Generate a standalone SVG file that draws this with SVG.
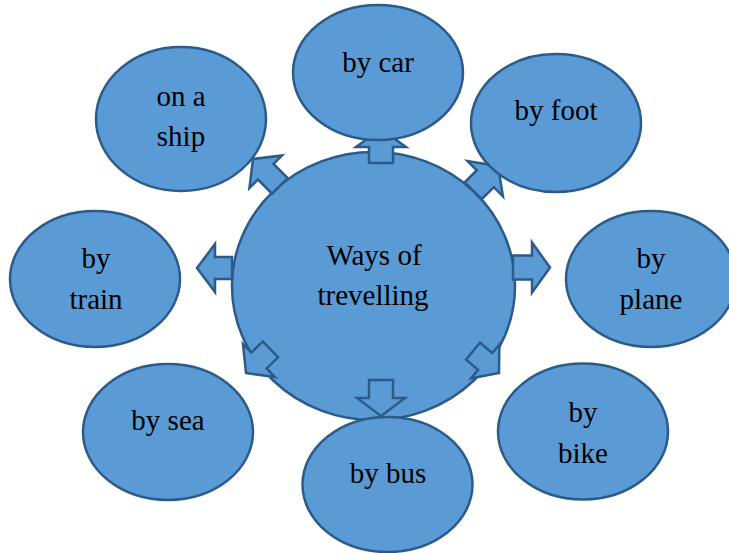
<svg xmlns="http://www.w3.org/2000/svg" width="729" height="553" viewBox="0 0 729 553">
<style>
.n{fill:#5B9BD5;stroke:#2B5B8A;stroke-width:2.5}
.a{fill:#5B9BD5;stroke:#2B5B8A;stroke-width:2.5;stroke-linejoin:miter}
text{font-family:"Liberation Serif","Times New Roman",serif;font-size:29px;fill:#000;text-anchor:middle}
</style>
<rect width="729" height="553" fill="#fff"/>
<g id="center">
<ellipse class="n" cx="373.5" cy="286" rx="141.5" ry="134"/>
<text x="374" y="265">Ways of</text>
<text x="373" y="305">trevelling</text>
</g>
<g id="connectors">
<polygon class="a" transform="translate(381,129) rotate(-90)" points="0,0 -18,-25 -18,-12 -34,-12 -34,12 -18,12 -18,25"/>
<polygon class="a" transform="translate(381,416) rotate(90)" points="0,0 -18,-24 -18,-12 -36,-12 -36,12 -18,12 -18,24"/>
<polygon class="a" transform="translate(550,267.5)" points="0,0 -18,-25 -18,-12 -37,-12 -37,12 -18,12 -18,25"/>
<polygon class="a" transform="translate(197,268) rotate(180)" points="0,0 -18,-24 -18,-11 -35,-11 -35,11 -18,11 -18,24"/>
<polygon class="a" transform="translate(253,159) rotate(225)" points="0,0 -18,-23 -18,-11 -38,-11 -38,11 -18,11 -18,23"/>
<polygon class="a" transform="translate(498,166) rotate(-45)" points="0,0 -18,-25 -18,-12 -35,-12 -35,12 -18,12 -18,25"/>
<polygon class="a" transform="translate(246,373) rotate(136)" points="0,0 -18,-23 -18,-11 -34,-11 -34,11 -18,11 -18,23"/>
<polygon class="a" transform="translate(499,373) rotate(40)" points="0,0 -18,-22 -18,-11 -34,-11 -34,11 -18,11 -18,22"/>
</g>
<g id="ship">
<ellipse class="n" cx="181" cy="119" rx="85" ry="72"/>
<text x="181" y="106">on a</text>
<text x="181" y="146">ship</text>
</g>
<g id="car">
<ellipse class="n" cx="378" cy="72.5" rx="85" ry="67.5"/>
<text x="378" y="72">by car</text>
</g>
<g id="foot">
<ellipse class="n" cx="556" cy="123" rx="85" ry="69"/>
<text x="556" y="120">by foot</text>
</g>
<g id="train">
<ellipse class="n" cx="95" cy="279" rx="85" ry="68"/>
<text x="96" y="268">by</text>
<text x="96" y="309">train</text>
</g>
<g id="plane">
<ellipse class="n" cx="651" cy="279" rx="85" ry="68"/>
<text x="651" y="268">by</text>
<text x="651" y="309">plane</text>
</g>
<g id="sea">
<ellipse class="n" cx="168" cy="432" rx="85" ry="68"/>
<text x="168" y="430">by sea</text>
</g>
<g id="bus">
<ellipse class="n" cx="387.5" cy="484.5" rx="85" ry="67.5"/>
<text x="388" y="483">by bus</text>
</g>
<g id="bike">
<ellipse class="n" cx="583" cy="431.5" rx="85" ry="68"/>
<text x="583" y="422">by</text>
<text x="583" y="463">bike</text>
</g>
</svg>
